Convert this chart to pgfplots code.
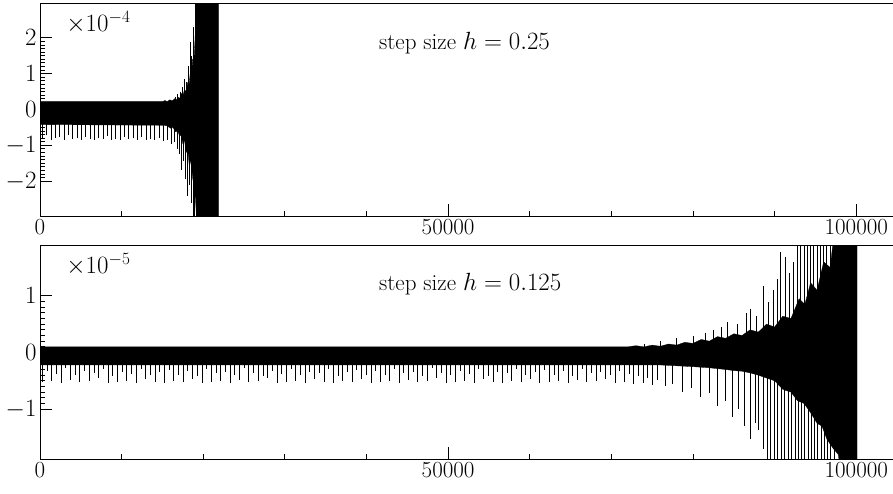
\documentclass[border=0pt]{standalone}
\usepackage{pgfplots}
\usetikzlibrary{calc}
\pgfplotsset{compat=1.18}
\begin{document}
\begin{tikzpicture}
\pgfplotsset{stepaxis/.style={scale only axis,width=853pt,height=213pt,
  xmin=0,xmax=104500,axis x line*=box,axis y line*=left,
  xtick={0,50000,100000},xticklabels={0,50000,100000},minor x tick num=4,minor y tick num=9,
  xtick pos=left,ytick pos=left,tick align=inside,
  major tick length=12pt,minor tick length=5pt,
  scaled x ticks=false,scaled y ticks=false,
  axis line style={line width=1pt},
  every tick/.style={black,line width=0.9pt},
  tick label style={font=\fontsize{23}{27}\selectfont},
  clip=true}}
% h = 0.25, values in units of 1e-4
\begin{axis}[stepaxis,at={(0,0)},anchor=south west,ymin=-2.97,ymax=2.97,ytick={-2,-1,0,1,2}]
\coordinate (tl) at (rel axis cs:0,1);
\addplot[fill=black,draw=black,line width=0.3pt] coordinates {
(0,0.22) (15000,0.22) (15300,0.25) (15600,0.22) (15900,0.27) (16200,0.24) (16500,0.3) (16700,0.26) (16900,0.35)
(17100,0.3) (17300,0.45) (17500,0.38) (17700,0.55) (17900,0.5) (18100,0.75) (18250,0.65) (18400,1.0) (18550,0.9)
(18700,1.4) (18850,1.3) (19000,2.0) (19200,3.5) (21850,3.5)
(21850,-3.5) (19300,-3.5) (19050,-2.5) (18900,-2.2) (18700,-1.9) (18500,-1.4) (18300,-1.6) (18100,-1.1) (17900,-1.2)
(17700,-0.85) (17500,-0.95) (17300,-0.7) (17100,-0.75) (16900,-0.6) (16600,-0.62) (16300,-0.5) (16000,-0.52)
(15500,-0.45) (15000,-0.44) (0,-0.42)};
\addplot[ycomb,black,line width=1pt] coordinates {
(300,-0.82) (830,-0.70) (1360,-0.84) (1890,-0.80) (2420,-0.78) (2950,-0.85) (3480,-0.72) (4010,-0.83)
(4540,-0.80) (5070,-0.84) (5600,-0.76) (6130,-0.82) (6660,-0.85) (7190,-0.79) (7720,-0.83) (8250,-0.74)
(8780,-0.84) (9310,-0.81) (9840,-0.85) (10370,-0.78) (10900,-0.83) (11430,-0.80) (11960,-0.85) (12490,-0.77)
(13020,-0.84) (13550,-0.82) (14080,-0.86) (14610,-0.80) (15140,-0.88) (15670,-0.85)
(16100,-0.95) (16500,-0.9) (16800,-1.1) (17100,-1.25) (17350,-1.7) (17600,-1.45) (17850,-1.95) (18100,-2.4)
(18300,-2.1) (18550,-2.6) (18750,-3.5) (18950,-3.5) (19150,-3.5)};
\addplot[ycomb,black,line width=1pt] coordinates {
(16600,0.35) (16900,0.42) (17200,0.5) (17500,0.62) (17750,0.84) (18000,0.78) (18200,1.2) (18400,1.88)
(18600,1.5) (18800,2.3) (19000,3.5) (19100,3.5)};
\node[anchor=west,font=\fontsize{23}{27}\selectfont] at (axis cs:2800,2.42) {$\times10^{-4}$};
\node[anchor=west,font=\fontsize{23}{27}\selectfont] at (axis cs:41100,1.86) {step size $h=0.25$};
\end{axis}
% h = 0.125, values in units of 1e-5
\begin{axis}[stepaxis,at={(0,-243pt)},anchor=south west,ymin=-1.88,ymax=1.88,ytick={-1,0,1}]
\coordinate (br) at (rel axis cs:1,0);
\addplot[fill=black,draw=black,line width=0.3pt] coordinates {
(0,0.1) (72000,0.1) (73000,0.12) (74000,0.1) (75000,0.13) (76000,0.11) (77000,0.15) (78000,0.13) (79000,0.18)
(80000,0.16) (81000,0.23) (82000,0.2) (83000,0.28) (84000,0.25) (85000,0.33) (86000,0.3) (87000,0.4) (88000,0.36)
(89000,0.5) (90000,0.45) (91000,0.64) (92000,0.6) (93000,0.95) (93700,0.85) (94400,1.23) (95200,1.1) (96000,1.6)
(96800,1.5) (97600,2.5) (100100,2.5)
(100100,-2.5) (98400,-2.5) (97800,-1.8) (97200,-1.7) (96400,-1.53) (95800,-1.3) (95200,-1.25) (94400,-1.06)
(93600,-0.9) (92800,-0.85) (92000,-0.7) (91000,-0.65) (90000,-0.5) (89000,-0.45) (88000,-0.4) (87000,-0.36)
(86000,-0.33) (85000,-0.32) (84000,-0.3) (82000,-0.27) (80000,-0.25) (76000,-0.22) (0,-0.22)};
\addplot[ycomb,black,line width=1pt] coordinates {
(300,-0.52) (1450,-0.50) (2600,-0.53) (3750,-0.48) (4900,-0.52) (6050,-0.51) (7200,-0.45) (8350,-0.53)
(9500,-0.52) (10650,-0.50) (11800,-0.53) (12950,-0.47) (14100,-0.52) (15250,-0.53) (16400,-0.50) (17550,-0.52)
(18700,-0.46) (19850,-0.53) (21000,-0.52) (22150,-0.50) (23300,-0.53) (24450,-0.48) (25600,-0.52) (26750,-0.51)
(27900,-0.45) (29050,-0.53) (30200,-0.52) (31350,-0.50) (32500,-0.53) (33650,-0.47) (34800,-0.52) (35950,-0.53)
(37100,-0.50) (38250,-0.52) (39400,-0.46) (40550,-0.53) (41700,-0.52) (42850,-0.50) (44000,-0.53) (45150,-0.48)
(46300,-0.52) (47450,-0.51) (48600,-0.45) (49750,-0.53) (50900,-0.52) (52050,-0.50) (53200,-0.53) (54350,-0.47)
(55500,-0.52) (56650,-0.53) (57800,-0.50) (58950,-0.52) (60100,-0.46) (61250,-0.53) (62400,-0.52) (63550,-0.50)
(64700,-0.53) (65850,-0.48) (67000,-0.52) (68150,-0.51) (69300,-0.47) (70450,-0.53) (71600,-0.52) (72750,-0.55)
(73900,-0.53) (75050,-0.58)};
\addplot[ycomb,black,line width=1pt] coordinates {
(875,-0.32) (2025,-0.38) (3175,-0.28) (4325,-0.40) (5475,-0.33) (6625,-0.36) (7775,-0.30) (8925,-0.42)
(10075,-0.34) (11225,-0.38) (12375,-0.29) (13525,-0.40) (14675,-0.35) (15825,-0.31) (16975,-0.39) (18125,-0.33)
(19275,-0.42) (20425,-0.30) (21575,-0.37) (22725,-0.34) (23875,-0.40) (25025,-0.28) (26175,-0.36) (27325,-0.41)
(28475,-0.33) (29625,-0.38) (30775,-0.30) (31925,-0.40) (33075,-0.34) (34225,-0.37) (35375,-0.29) (36525,-0.42)
(37675,-0.35) (38825,-0.31) (39975,-0.39) (41125,-0.33) (42275,-0.40) (43425,-0.30) (44575,-0.37) (45725,-0.34)
(46875,-0.41) (48025,-0.28) (49175,-0.36) (50325,-0.40) (51475,-0.33) (52625,-0.38) (53775,-0.30) (54925,-0.42)
(56075,-0.34) (57225,-0.37) (58375,-0.29) (59525,-0.40) (60675,-0.35) (61825,-0.31) (62975,-0.39) (64125,-0.33)
(65275,-0.42) (66425,-0.30) (67575,-0.37) (68725,-0.34) (69875,-0.40) (71025,-0.33) (72175,-0.38) (73325,-0.42)
(74475,-0.45) (75600,-0.48)
(76600,-0.6) (77500,-0.55) (78700,-0.7) (79800,-0.62) (80900,-0.78) (82000,-0.72) (83000,-0.95) (84000,-0.85)
(84800,-1.13) (85600,-1.0) (86300,-1.3) (87000,-1.53) (87600,-1.25) (88000,-1.36) (88600,-1.7) (89100,-2.5)
(89500,-2.5) (90000,-1.9) (90400,-2.5) (90800,-2.5) (91200,-2.5) (91700,-2.2) (92100,-2.5) (92500,-2.5)
(92900,-2.5) (93300,-2.0) (93700,-2.5) (94100,-2.5) (94500,-2.5) (94900,-1.9) (95300,-2.5) (95700,-2.5)
(96100,-2.5) (96500,-2.2) (96900,-2.5) (97300,-2.5)};
\addplot[ycomb,black,line width=1pt] coordinates {
(74000,0.15) (76000,0.2) (78000,0.25) (80000,0.3) (81500,0.35) (82500,0.4) (83500,0.45) (84200,0.53)
(85500,0.5) (86500,0.7) (87000,0.76) (87800,0.65) (88600,1.17) (89200,0.9) (89800,1.1) (90300,1.29)
(90700,1.78) (91300,1.69) (91800,1.4) (92300,1.6) (92800,2.5) (93200,2.5) (93600,2.5) (94000,1.9)
(94400,2.5) (94800,2.5) (95200,2.5) (95600,2.5) (96000,2.5) (96400,2.5) (96800,2.5) (97200,2.5)};
\node[anchor=west,font=\fontsize{23}{27}\selectfont] at (axis cs:2800,1.55) {$\times10^{-5}$};
\node[anchor=west,font=\fontsize{23}{27}\selectfont] at (axis cs:41100,1.2) {step size $h=0.125$};
\end{axis}
\pgfresetboundingbox
\path[use as bounding box] ($(tl)+(-40pt,3pt)$) rectangle ($(br)+(0pt,-34pt)$);
\end{tikzpicture}
\end{document}
